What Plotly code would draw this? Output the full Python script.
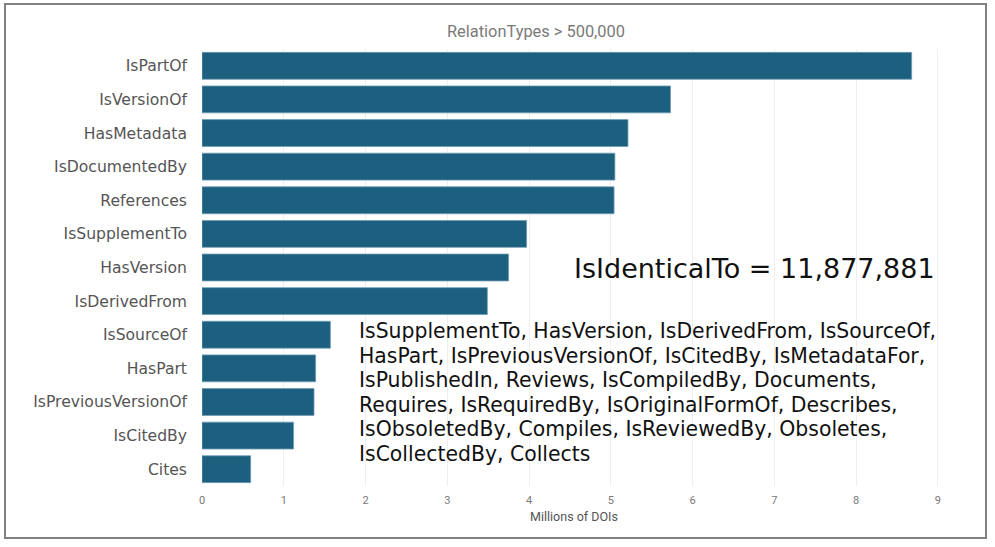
import plotly.graph_objects as go

# ---- data ----
categories = ["IsPartOf", "IsVersionOf", "HasMetadata", "IsDocumentedBy", "References",
              "IsSupplementTo", "HasVersion", "IsDerivedFrom", "IsSourceOf", "HasPart",
              "IsPreviousVersionOf", "IsCitedBy", "Cites"]
millions_of_dois = [8.68, 5.73, 5.21, 5.05, 5.04, 3.97, 3.75, 3.49, 1.57, 1.39, 1.37, 1.12, 0.595]
x_ticks = [0, 1, 2, 3, 4, 5, 6, 7, 8, 9]

title_text = "RelationTypes &gt; 500,000"
x_title = "Millions of DOIs"
big_note = "IsIdenticalTo = 11,877,881"
note_lines = [
    "IsSupplementTo, HasVersion, IsDerivedFrom, IsSourceOf,",
    "HasPart, IsPreviousVersionOf, IsCitedBy, IsMetadataFor,",
    "IsPublishedIn, Reviews, IsCompiledBy, Documents,",
    "Requires, IsRequiredBy, IsOriginalFormOf, Describes,",
    "IsObsoletedBy, Compiles, IsReviewedBy, Obsoletes,",
    "IsCollectedBy, Collects",
]

# ---- layout geometry (pixels) ----
W, H = 995, 547
L, R, T, B = 202, 946, 49, 486
XMAX = 9.1
NOTE_X, NOTE_Y0, NOTE_DY = 357, 331, 24.6

def px(x):
    return (x - L) / (R - L)

def py(y):
    return (B - y) / (B - T)

fig = go.Figure(go.Bar(
    x=millions_of_dois,
    y=categories,
    orientation="h",
    marker=dict(color="#1c5f7e", line=dict(color="#6f9db5", width=0.8)),
    hoverinfo="x+y",
))

fig.update_layout(
    width=W, height=H,
    margin=dict(l=L, r=W - R, t=T, b=H - B),
    paper_bgcolor="white", plot_bgcolor="white",
    showlegend=False,
    bargap=0.2,
    title=dict(text=title_text, x=536 / W, xanchor="center", xref="container",
               y=1 - 31 / H, yanchor="middle", yref="container",
               font=dict(family="Roboto", size=16.4, color="#7a7a7a")),
    xaxis=dict(range=[0, XMAX], tickvals=x_ticks, showgrid=True, gridcolor="#efefef",
               gridwidth=1, zeroline=False, showline=False,
               ticklabelstandoff=6,
               tickfont=dict(family="Roboto", size=11, color="#7a7a7a"),
               title=dict(text=x_title, standoff=6,
                          font=dict(family="Roboto", size=12.5, color="#555555"))),
    yaxis=dict(categoryorder="array", categoryarray=categories[::-1],
               showgrid=False, zeroline=False, showline=False,
               ticklabelstandoff=14,
               tickfont=dict(family="DejaVu Sans", size=15.6, color="#555555")),
)

fig.add_annotation(text=big_note, xref="paper", yref="paper",
                   x=px(572), y=py(268), xanchor="left", yanchor="middle",
                   showarrow=False,
                   font=dict(family="DejaVu Sans", size=27, color="#111111"))

for i, line in enumerate(note_lines):
    fig.add_annotation(text=line, xref="paper", yref="paper",
                       x=px(NOTE_X), y=py(NOTE_Y0 + i * NOTE_DY),
                       xanchor="left", yanchor="middle", align="left",
                       showarrow=False,
                       font=dict(family="DejaVu Sans", size=20.4, color="#111111"))

fig.add_shape(type="rect", xref="paper", yref="paper",
              x0=px(5), x1=px(986), y0=py(538), y1=py(4),
              line=dict(color="#808080", width=2), fillcolor="rgba(0,0,0,0)")

fig.write_html("out.html", config={"displayModeBar": False},
               post_script="document.body.style.margin='0';")
